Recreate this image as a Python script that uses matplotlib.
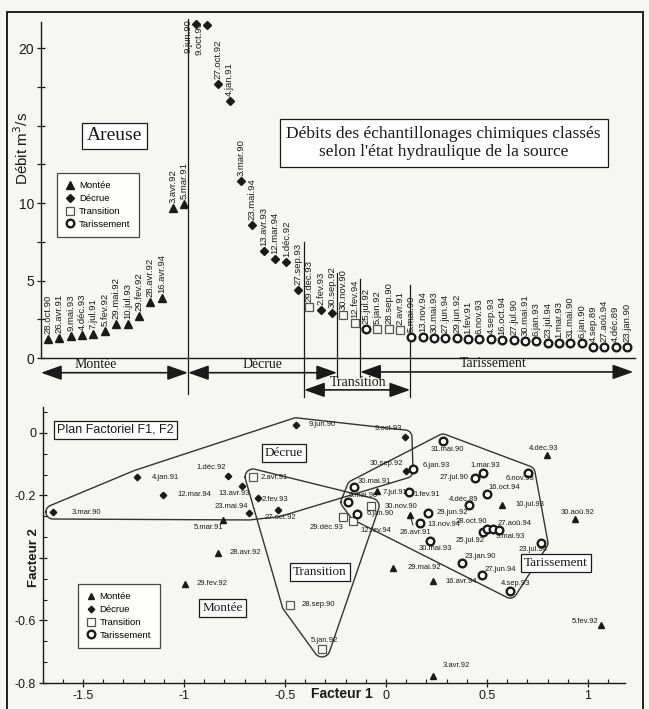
import numpy as np
import matplotlib
matplotlib.use("Agg")
import matplotlib.pyplot as plt
from matplotlib.patches import Rectangle
from matplotlib.lines import Line2D

plt.rcParams['font.family'] = ['Liberation Sans', 'DejaVu Sans']

# ---------- données : débits classés (panneau du haut) ----------
top_dates = ['28.oct.90', '26.avr.91', '9.mai.93', '4.déc.93', '7.jul.91', '5.fev.92', '29.mai.92',
             '10.jul.93', '29.fev.92', '28.avr.92', '16.avr.94', '3.avr.92', '5.mar.91',
             '9.jun.90', '9.oct.93', '27.oct.92', '4.jan.91', '3.mar.90', '23.mai.94', '13.avr.93',
             '12.mar.94', '1.déc.92', '27.sep.93',
             '29.déc.93', '2.fev.93', '30.sep.92', '30.nov.90', '12.fev.94', '25.jul.92', '5.jan.92',
             '28.sep.90', '2.avr.91',
             '5.mai.90', '13.nov.94', '30.mai.93', '27.jun.94', '29.jun.92', '1.fev.91', '6.nov.93',
             '4.sep.93', '16.oct.94', '27.jul.90', '30.mai.91', '6.jan.93', '23.jul.94', '1.mar.93',
             '31.mai.90', '6.jan.90', '4.sep.89', '27.aoû.94', '4.déc.89', '23.jan.90']
top_state = (['M'] * 13 + ['D'] * 10 + ['T', 'D', 'D', 'T', 'T', 'R', 'T', 'T', 'T'] + ['R'] * 20)
top_debit = [1.2, 1.3, 1.4, 1.5, 1.55, 1.75, 2.2, 2.2, 2.7, 3.6, 3.9, 9.7, 9.95,
             21.6, 21.5, 17.7, 16.6, 11.4, 8.6, 6.9, 6.4, 6.2, 4.4,
             3.3, 3.1, 2.9, 2.8, 2.25, 1.9, 1.85, 1.85, 1.8,
             1.35, 1.35, 1.3, 1.3, 1.3, 1.25, 1.25, 1.2, 1.15, 1.15, 1.1, 1.1, 1.0, 1.0,
             1.0, 1.0, 0.7, 0.7, 0.7, 0.7]
top_yticks = [0, 2.5, 5, 7.5, 10, 12.5, 15, 17.5, 20]
top_yticklabels = ['0', '', '5', '', '10', '', '', '', '20']

# ---------- données : plan factoriel F1, F2 (panneau du bas) ----------
bot_dates = ['3.mar.90', '4.jan.91', '12.mar.94', '1.déc.92', '13.avr.93', '23.mai.94', '2.fev.93',
             '27.oct.92', '9.jun.90', '9.oct.93', '30.sep.92',
             '2.avr.91', '28.sep.90', '5.jan.92', '29.déc.93', '12.fev.94', '30.nov.90',
             '5.mar.91', '28.avr.92', '29.fev.92', '7.jul.91', '26.avr.91', '29.mai.92', '16.avr.94',
             '3.avr.92', '4.déc.93', '10.jul.93', '30.aoû.92', '5.fev.92',
             '31.mai.90', '6.jan.93', '1.mar.93', '27.jul.90', '6.nov.93', '16.oct.94', '4.déc.89',
             '1.fev.91', '30.mai.91', '5.mai.90', '6.jan.90', '29.jun.92', '13.nov.94', '30.mai.93',
             '25.jul.92', '28.oct.90', '27.aoû.94', '9.mai.93', '23.jul.94', '23.jan.90', '27.jun.94',
             '4.sep.93']
bot_state = ['D'] * 11 + ['T'] * 6 + ['M'] * 12 + ['R'] * 22
f1 = [-1.649, -1.233, -1.104, -0.782, -0.713, -0.678, -0.634, -0.535, -0.446, 0.094, 0.099,
      -0.658, -0.475, -0.317, -0.213, -0.163, -0.074,
      -0.807, -0.832, -0.995, -0.045, 0.119, 0.035, 0.233, 0.233, 0.797, 0.574, 0.936, 1.064,
      0.282, 0.134, 0.480, 0.441, 0.703, 0.500, 0.411, 0.114, -0.158, -0.188, -0.144, 0.208,
      0.168, 0.218, 0.480, 0.500, 0.530, 0.559, 0.767, 0.376, 0.475, 0.614]
f2 = [-0.253, -0.141, -0.198, -0.138, -0.170, -0.256, -0.208, -0.246, 0.026, -0.013, -0.122,
      -0.141, -0.550, -0.691, -0.269, -0.282, -0.234,
      -0.278, -0.384, -0.483, -0.186, -0.262, -0.432, -0.474, -0.778, -0.070, -0.230, -0.275, -0.614,
      -0.026, -0.115, -0.128, -0.144, -0.128, -0.195, -0.230, -0.189, -0.173, -0.221, -0.259, -0.256,
      -0.288, -0.346, -0.317, -0.307, -0.307, -0.310, -0.352, -0.416, -0.454, -0.506]
bot_xticks = [-1.5, -1, -0.5, 0, 0.5, 1]
bot_xticklabels = ['-1.5', '-1', '-0.5', '0', '0.5', '1']
bot_yticks = [0, -0.2, -0.4, -0.6, -0.8]
bot_yticklabels = ['0', '-0.2', '', '-0.6', '-0.8']

state_names = {'M': 'Montée', 'D': 'Décrue', 'T': 'Transition', 'R': 'Tarissement'}

# décalage des étiquettes (pixels) dans le plan factoriel
lab_off = [(19, 0, 'left'), (15, 0, 'left'), (14, 0, 'left'), (-2, 9, 'right'), (-8, -7, 'center'),
           (-1, 6, 'right'), (4, -2, 'left'), (2, -8, 'center'), (13, 0, 'left'), (-3, 9, 'right'),
           (-3, 8, 'right'),
           (7, 0, 'left'), (12, 0, 'left'), (2, 8, 'center'), (0, -10, 'right'), (7, -9, 'left'),
           (14, 0, 'left'),
           (0, -8, 'right'), (12, 0, 'left'), (12, 0, 'left'), (6, -1, 'left'), (5, -18, 'center'),
           (14, 0, 'left'), (12, 0, 'left'), (10, 11, 'left'), (-3, 6, 'center'), (13, 0, 'left'),
           (2, 6, 'center'), (-3, 3, 'right'),
           (4, -8, 'center'), (10, 3, 'left'), (2, 7, 'center'), (-7, 0, 'right'), (-8, -6, 'center'),
           (1, 6, 'left'), (-5, 5, 'center'), (4, -2, 'left'), (4, 6, 'left'), (1, 7, 'left'),
           (10, 0, 'left'), (9, 0, 'left'), (8, -2, 'left'), (5, -7, 'center'), (-13, -8, 'center'),
           (0, 7, 'right'), (4, 5, 'left'), (-3, -7, 'left'), (-8, -7, 'center'), (3, 6, 'left'),
           (3, 5, 'left'), (6, 8, 'center')]

ink = '#1a1a1a'
top_style = {'M': dict(marker='^', ms=5.5, color=ink, ls='none'),
             'D': dict(marker='D', ms=4.2, color=ink, ls='none'),
             'T': dict(marker='s', ms=5.2, mfc='none', mec='#555', mew=0.9, ls='none'),
             'R': dict(marker='o', ms=5.5, mfc='white', mec=ink, mew=1.7, ls='none')}
bot_style = {'M': dict(marker='^', ms=5, color=ink, ls='none'),
             'D': dict(marker='D', ms=3.3, color=ink, ls='none'),
             'T': dict(marker='s', ms=5.5, mfc='white', mec='#555', mew=0.9, ls='none'),
             'R': dict(marker='o', ms=5.5, mfc='white', mec=ink, mew=1.7, ls='none')}

W, H = 649, 709
fig = plt.figure(figsize=(W / 100, H / 100), dpi=100, facecolor='#f6f6f4')
fig.add_artist(Rectangle((7 / W, -0.01), (643 - 7) / W, 1 - 12 / H + 0.01, transform=fig.transFigure,
                         fill=False, lw=1.4, ec='#222'))


def legend_box(ax, loc_xy, style):
    handles = [Line2D([], [], **style[k]) for k in ['M', 'D', 'T', 'R']]
    leg = ax.legend(handles, [state_names[k] for k in ['M', 'D', 'T', 'R']], loc='upper left',
                    bbox_to_anchor=loc_xy, fontsize=6.8, frameon=True, fancybox=False, borderpad=0.9,
                    labelspacing=0.4, handlelength=0.9, handletextpad=0.5, borderaxespad=0)
    leg.get_frame().set_edgecolor(ink)
    leg.get_frame().set_linewidth(0.9)
    leg.get_frame().set_facecolor('white')


def boxed(ax, x, y, s, size, family='Liberation Serif', pad=0.25, **kw):
    ax.text(x, y, s, transform=ax.transAxes, ha='center', va='center', fontsize=size, family=family,
            color=ink, bbox=dict(boxstyle='square,pad=%g' % pad, fc='white', ec=ink, lw=0.9), **kw)


# ================= panneau du haut =================
ax1 = fig.add_axes([41 / W, 1 - 358 / H, (635 - 41) / W, (358 - 22) / H])
ax1.patch.set_alpha(0)
idx = np.arange(len(top_dates))
ax1.set_xlim(-0.62, 51.7)
ax1.set_ylim(0, 21.7)
for k in ['M', 'D', 'T', 'R']:
    sel = [i for i, s in enumerate(top_state) if s == k]
    ax1.plot(idx[sel], np.array(top_debit)[sel], clip_on=False, zorder=3, **top_style[k])
for i, (d, v) in enumerate(zip(top_dates, top_debit)):
    if v > 20:
        ax1.annotate(d, (i, v), xytext=(-3, 4), textcoords='offset pixels', rotation=90,
                     ha='right', va='top', fontsize=6.8, color=ink)
    else:
        ax1.annotate(d, (i, v), xytext=(0, 5), textcoords='offset pixels', rotation=90,
                     ha='center', va='bottom', fontsize=6.8, color=ink)

for s in ['top', 'right']:
    ax1.spines[s].set_visible(False)
for s in ['left', 'bottom']:
    ax1.spines[s].set_color(ink)
    ax1.spines[s].set_linewidth(1.0)
ax1.set_xticks([])
ax1.set_yticks(top_yticks)
ax1.set_yticklabels(top_yticklabels)
ax1.tick_params(axis='y', direction='inout', length=6, width=0.9, labelsize=10, colors=ink, pad=2)
ax1.set_ylabel('Débit m$^3$/s', fontsize=11, color=ink)
ax1.yaxis.set_label_coords(-0.016, 0.625)

# séparations et flèches des états hydrauliques
sep_x = [12.33, 22.55, 25.46, 27.49, 31.9]
sep_top = [21.9, 7.5, 5.5, 5.1, 4.7]
sep_bot = [-2.3, -2.5, -1.25, -1.25, -2.5]
for x, y0, y1 in zip(sep_x, sep_top, sep_bot):
    ax1.plot([x, x], [y0, y1], color=ink, lw=0.9, clip_on=False)

arrow_kw = dict(arrowstyle='<|-|>,head_length=0.9,head_width=0.32', mutation_scale=14, lw=1.2,
                color=ink, shrinkA=0, shrinkB=0)
for x0, x1, y in [(-0.62, 12.33, -0.95), (12.33, 25.46, -0.95), (27.49, 51.55, -0.9),
                  (22.55, 31.9, -2.06)]:
    ax1.annotate('', xy=(x1, y), xytext=(x0, y), arrowprops=arrow_kw, annotation_clip=False)
for x, y, s in [(4.2, -0.85, 'Montée'), (18.9, -0.85, 'Décrue'), (39.2, -0.8, 'Tarissement'),
                (27.3, -1.98, 'Transition')]:
    ax1.text(x, y, s, ha='center', va='bottom', fontsize=10, family='Liberation Serif', color=ink)

boxed(ax1, 0.123, 0.661, 'Areuse', 14)
boxed(ax1, 0.678, 0.640, "Débits des échantillonages chimiques classés\nselon l'état hydraulique de la source",
      12.5, pad=0.4, linespacing=1.2)
legend_box(ax1, (0.027, 0.551), top_style)

# ================= panneau du bas =================
ax2 = fig.add_axes([43 / W, 1 - 683 / H, (625 - 43) / W, (683 - 407) / H])
ax2.patch.set_alpha(0)
ax2.set_xlim(-1.698, 1.183)
ax2.set_ylim(-0.8, 0.083)


def hull(p):
    p = sorted(map(tuple, p))
    def cross(o, a, b):
        return (a[0] - o[0]) * (b[1] - o[1]) - (a[1] - o[1]) * (b[0] - o[0])
    lo, up = [], []
    for q in p:
        while len(lo) >= 2 and cross(lo[-2], lo[-1], q) <= 0:
            lo.pop()
        lo.append(q)
    for q in reversed(p):
        while len(up) >= 2 and cross(up[-2], up[-1], q) <= 0:
            up.pop()
        up.append(q)
    return np.array(lo[:-1] + up[:-1])


# contours des groupes : enveloppe arrondie autour des points de chaque état
ang = np.linspace(0, 2 * np.pi, 36, endpoint=False)
circ = np.column_stack([np.cos(ang), np.sin(ang)])
for k, pad in [('D', 7), ('T', 8), ('R', 7)]:
    sel = [i for i, s in enumerate(bot_state) if s == k]
    pts = ax2.transData.transform(np.column_stack([np.array(f1)[sel], np.array(f2)[sel]]))
    ring = (pts[:, None, :] + pad * circ[None]).reshape(-1, 2)
    h = hull(ring)
    h = np.vstack([h, h[:1]])
    hd = ax2.transData.inverted().transform(h)
    ax2.plot(hd[:, 0], hd[:, 1], color='#333', lw=1.0, zorder=1)

for k in ['D', 'T', 'M', 'R']:
    sel = [i for i, s in enumerate(bot_state) if s == k]
    ax2.plot(np.array(f1)[sel], np.array(f2)[sel], zorder=3, clip_on=False, **bot_style[k])
for d, x, y, (dx, dy, ha) in zip(bot_dates, f1, f2, lab_off):
    extra = {}
    if d == '26.avr.91':
        extra = dict(arrowprops=dict(arrowstyle='-', lw=0.7, color=ink, shrinkA=1, shrinkB=3))
    ax2.annotate(d, (x, y), xytext=(dx, dy), textcoords='offset pixels', ha=ha, va='center',
                 fontsize=5.5, color=ink, zorder=4, **extra)

for s in ['top', 'right']:
    ax2.spines[s].set_visible(False)
for s in ['left', 'bottom']:
    ax2.spines[s].set_color(ink)
    ax2.spines[s].set_linewidth(1.0)
ax2.set_xticks(bot_xticks)
ax2.set_xticklabels(bot_xticklabels)
ax2.set_yticks(bot_yticks)
ax2.set_yticklabels(bot_yticklabels)
ax2.set_xticks(np.arange(-1.6, 1.15, 0.1), minor=True)
ax2.set_yticks(np.arange(-0.8, 0.09, 0.2 / 3), minor=True)
ax2.tick_params(which='major', direction='inout', length=6, width=0.9, labelsize=9, colors=ink, pad=2)
ax2.tick_params(which='minor', direction='in', length=3, width=0.8, colors=ink)
ax2.set_xlabel('Facteur 1', fontsize=10, fontweight='bold', color=ink)
ax2.xaxis.set_label_coords(0.514, -0.015)
ax2.xaxis.label.set_va('top')
ax2.set_ylabel('Facteur 2', fontsize=9.5, fontweight='bold', color=ink)
ax2.yaxis.set_label_coords(-0.006, 0.456)

boxed(ax2, 0.124, 0.917, 'Plan Factoriel F1, F2', 9, family='Liberation Sans')
boxed(ax2, 0.414, 0.834, 'Décrue', 9.5)
boxed(ax2, 0.476, 0.402, 'Transition', 9.5)
boxed(ax2, 0.309, 0.272, 'Montée', 9.5)
boxed(ax2, 0.881, 0.435, 'Tarissement', 9.5)
legend_box(ax2, (0.060, 0.359), bot_style)

fig.savefig('out.png', dpi=100, facecolor=fig.get_facecolor())
